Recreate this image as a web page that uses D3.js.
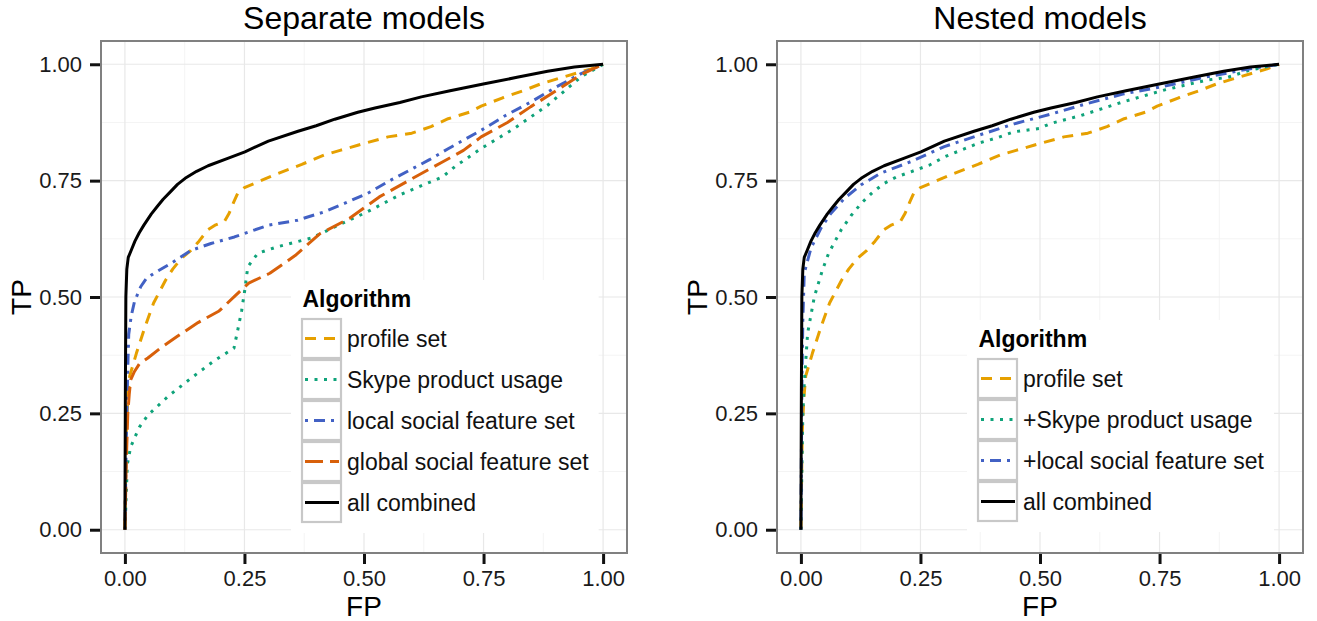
<!DOCTYPE html>
<html>
<head>
<meta charset="utf-8">
<script src="https://cdn.jsdelivr.net/npm/d3@7"></script>
<style>
  body { margin: 0; background: #fff; }
  text { font-family: "Liberation Sans", Arial, sans-serif; }
</style>
</head>
<body>
<svg id="chart" width="1317" height="621"></svg>
<script>
// ---- data ----
const axisTicks = [0, 0.25, 0.5, 0.75, 1];
const minorTicks = [0.125, 0.375, 0.625, 0.875];
const panelTitles = ["Separate models", "Nested models"];
const legendTitle = "Algorithm";
const separateLabels = ["profile set", "Skype product usage", "local social feature set", "global social feature set", "all combined"];
const nestedLabels = ["profile set", "+Skype product usage", "+local social feature set", "all combined"];

// [FP, TP]
const profileSet = [[0,0],[0.002,0.15],[0.003,0.215],[0.006,0.28],[0.01,0.33],[0.024,0.379],[0.042,0.436],[0.06,0.487],[0.085,0.536],[0.1,0.56],[0.118,0.583],[0.138,0.6],[0.155,0.62],[0.173,0.644],[0.19,0.655],[0.208,0.662],[0.218,0.68],[0.228,0.705],[0.236,0.723],[0.25,0.735],[0.28,0.748],[0.319,0.765],[0.37,0.785],[0.417,0.805],[0.45,0.815],[0.487,0.826],[0.55,0.844],[0.6,0.852],[0.64,0.866],[0.676,0.883],[0.72,0.897],[0.745,0.91],[0.79,0.928],[0.835,0.944],[0.87,0.958],[0.918,0.973],[0.975,0.99],[1,1]];
const skypeUsage = [[0,0],[0.003,0.08],[0.005,0.14],[0.012,0.178],[0.03,0.22],[0.048,0.246],[0.092,0.288],[0.144,0.33],[0.188,0.364],[0.228,0.39],[0.236,0.429],[0.244,0.47],[0.25,0.51],[0.257,0.565],[0.278,0.594],[0.319,0.608],[0.391,0.627],[0.444,0.653],[0.505,0.682],[0.576,0.72],[0.664,0.758],[0.69,0.78],[0.745,0.819],[0.814,0.862],[0.884,0.912],[0.954,0.973],[1,1]];
const localSocial = [[0,0],[0.003,0.2],[0.006,0.35],[0.008,0.42],[0.013,0.458],[0.02,0.49],[0.033,0.522],[0.045,0.54],[0.061,0.551],[0.096,0.572],[0.138,0.6],[0.18,0.615],[0.229,0.629],[0.26,0.64],[0.299,0.654],[0.361,0.665],[0.417,0.683],[0.459,0.701],[0.508,0.723],[0.556,0.751],[0.6,0.775],[0.637,0.795],[0.675,0.818],[0.708,0.837],[0.745,0.858],[0.796,0.89],[0.849,0.919],[0.9,0.95],[0.954,0.98],[1,1]];
const globalSocial = [[0,0],[0.003,0.15],[0.006,0.25],[0.009,0.29],[0.012,0.322],[0.02,0.34],[0.03,0.356],[0.048,0.369],[0.074,0.39],[0.109,0.415],[0.153,0.445],[0.197,0.47],[0.232,0.504],[0.259,0.53],[0.303,0.551],[0.356,0.589],[0.408,0.636],[0.47,0.669],[0.532,0.715],[0.602,0.755],[0.664,0.79],[0.708,0.815],[0.745,0.844],[0.8,0.875],[0.849,0.909],[0.9,0.942],[0.954,0.978],[1,1]];
const allCombined = [[0,0],[0.001,0.3],[0.002,0.5],[0.004,0.56],[0.007,0.585],[0.013,0.6],[0.021,0.62],[0.03,0.638],[0.04,0.655],[0.055,0.678],[0.068,0.695],[0.08,0.71],[0.096,0.727],[0.11,0.742],[0.126,0.755],[0.15,0.77],[0.174,0.782],[0.215,0.798],[0.251,0.812],[0.3,0.835],[0.362,0.856],[0.4,0.868],[0.439,0.882],[0.487,0.897],[0.523,0.906],[0.575,0.918],[0.62,0.93],[0.68,0.943],[0.752,0.958],[0.82,0.972],[0.884,0.985],[0.94,0.994],[1,1]];
const plusSkype = [[0,0],[0.002,0.13],[0.004,0.25],[0.007,0.315],[0.014,0.422],[0.028,0.5],[0.045,0.558],[0.058,0.594],[0.084,0.644],[0.105,0.675],[0.126,0.701],[0.15,0.725],[0.174,0.744],[0.2,0.758],[0.23,0.769],[0.27,0.784],[0.3,0.801],[0.37,0.83],[0.41,0.842],[0.446,0.855],[0.498,0.862],[0.523,0.873],[0.586,0.89],[0.673,0.919],[0.761,0.945],[0.849,0.966],[0.893,0.972],[0.937,0.987],[1,1]];
const plusLocal = [[0,0],[0.002,0.3],[0.004,0.45],[0.007,0.551],[0.021,0.605],[0.042,0.648],[0.063,0.68],[0.091,0.712],[0.126,0.741],[0.167,0.766],[0.2,0.779],[0.23,0.791],[0.3,0.823],[0.37,0.847],[0.446,0.872],[0.523,0.893],[0.586,0.912],[0.673,0.936],[0.761,0.953],[0.849,0.973],[0.937,0.99],[1,1]];

// ---- styles ----
const dashed = { color: "#E6A000", dash: "11,8" };
const dotted = { color: "#0FA37A", dash: "3,6.5" };
const dotdash = { color: "#4261C4", dash: "3,6,11,6" };
const longdash = { color: "#D8600A", dash: "18,7" };
const solid = { color: "#000", dash: null };

const svg = d3.select("#chart");
const fmt = d3.format(".2f");

function drawPanel(opts) {
  const top = 41, bottom = 553;
  const x = d3.scaleLinear().domain([-0.05, 1.05]).range([opts.left, opts.right]);
  const y = d3.scaleLinear().domain([-0.05, 1.05]).range([bottom, top]);
  const g = svg.append("g");

  // grid
  g.selectAll(".minx").data(minorTicks).enter().append("line")
    .attr("x1", d => x(d)).attr("x2", d => x(d)).attr("y1", top).attr("y2", bottom)
    .attr("stroke", "#f4f4f4").attr("stroke-width", 1);
  g.selectAll(".miny").data(minorTicks).enter().append("line")
    .attr("y1", d => y(d)).attr("y2", d => y(d)).attr("x1", opts.left).attr("x2", opts.right)
    .attr("stroke", "#f4f4f4").attr("stroke-width", 1);
  g.selectAll(".majx").data(axisTicks).enter().append("line")
    .attr("x1", d => x(d)).attr("x2", d => x(d)).attr("y1", top).attr("y2", bottom)
    .attr("stroke", "#e8e8e8").attr("stroke-width", 1.2);
  g.selectAll(".majy").data(axisTicks).enter().append("line")
    .attr("y1", d => y(d)).attr("y2", d => y(d)).attr("x1", opts.left).attr("x2", opts.right)
    .attr("stroke", "#e8e8e8").attr("stroke-width", 1.2);

  // curves
  const line = d3.line().x(d => x(d[0])).y(d => y(d[1]));
  opts.series.forEach(s => {
    g.append("path")
      .datum(s.values)
      .attr("d", line)
      .attr("fill", "none")
      .attr("stroke", s.style.color)
      .attr("stroke-width", 3)
      .attr("stroke-linejoin", "round")
      .attr("stroke-dasharray", s.style.dash);
  });

  // legend
  const lg = g.append("g");
  const keySize = 41;
  const rowsTop = opts.legendTop;
  const bg = lg.append("rect").attr("fill", "#fff");
  lg.append("text")
    .attr("x", opts.legendX + 1.5).attr("y", rowsTop - 11)
    .attr("font-size", 23).attr("font-weight", "bold").attr("fill", "#000")
    .text(legendTitle);
  let maxW = 0;
  opts.series.forEach((s, i) => {
    const ry = rowsTop + i * keySize;
    lg.append("rect")
      .attr("x", opts.legendX + 1).attr("y", ry + 1)
      .attr("width", keySize - 2).attr("height", keySize - 2)
      .attr("fill", "#fff").attr("stroke", "#c8c8c8").attr("stroke-width", 2.2);
    lg.append("line")
      .attr("x1", opts.legendX + 4).attr("x2", opts.legendX + keySize - 3)
      .attr("y1", ry + keySize / 2).attr("y2", ry + keySize / 2)
      .attr("stroke", s.style.color).attr("stroke-width", 3)
      .attr("stroke-dasharray", s.style.dash);
    const t = lg.append("text")
      .attr("x", opts.legendX + keySize + 5).attr("y", ry + keySize / 2 + 8)
      .attr("font-size", 23).attr("fill", "#111")
      .text(s.label);
    maxW = Math.max(maxW, t.node().getComputedTextLength());
  });
  const bgTop = rowsTop - 38;
  bg.attr("x", opts.legendX - 10).attr("y", bgTop)
    .attr("width", keySize + 5 + maxW + 20)
    .attr("height", rowsTop + opts.series.length * keySize + 10 - bgTop);

  // panel border
  g.append("rect")
    .attr("x", opts.left).attr("y", top)
    .attr("width", opts.right - opts.left).attr("height", bottom - top)
    .attr("fill", "none").attr("stroke", "#808080").attr("stroke-width", 2);

  // axes
  const xAxis = d3.axisBottom(x).tickValues(axisTicks).tickFormat(fmt).tickSize(10).tickPadding(6);
  const yAxis = d3.axisLeft(y).tickValues(axisTicks).tickFormat(fmt).tickSize(10).tickPadding(8);
  const gx = g.append("g").attr("transform", `translate(0,${bottom + 1})`).call(xAxis);
  const gy = g.append("g").attr("transform", `translate(${opts.left - 1},0)`).call(yAxis);
  [gx, gy].forEach(a => {
    a.select(".domain").remove();
    a.selectAll(".tick line").attr("stroke", "#111").attr("stroke-width", 3);
    a.selectAll(".tick text").attr("font-size", 22).attr("fill", "#1a1a1a")
      .attr("font-family", "Liberation Sans, Arial, sans-serif");
  });

  // titles
  const cx = (opts.left + opts.right) / 2;
  g.append("text").attr("x", cx).attr("y", 29).attr("text-anchor", "middle")
    .attr("font-size", 32).attr("fill", "#000").text(opts.title);
  g.append("text").attr("x", cx).attr("y", 616).attr("text-anchor", "middle")
    .attr("font-size", 28).attr("fill", "#000").text("FP");
  g.append("text").attr("transform", `translate(${opts.left - 70},${y(0.5)}) rotate(-90)`)
    .attr("text-anchor", "middle").attr("font-size", 28).attr("fill", "#000").text("TP");
}

drawPanel({
  left: 101, right: 627, title: panelTitles[0],
  legendX: 301, legendTop: 318,
  series: [
    { label: separateLabels[0], values: profileSet, style: dashed },
    { label: separateLabels[1], values: skypeUsage, style: dotted },
    { label: separateLabels[2], values: localSocial, style: dotdash },
    { label: separateLabels[3], values: globalSocial, style: longdash },
    { label: separateLabels[4], values: allCombined, style: solid }
  ]
});

drawPanel({
  left: 777, right: 1303, title: panelTitles[1],
  legendX: 977, legendTop: 358,
  series: [
    { label: nestedLabels[0], values: profileSet, style: dashed },
    { label: nestedLabels[1], values: plusSkype, style: dotted },
    { label: nestedLabels[2], values: plusLocal, style: dotdash },
    { label: nestedLabels[3], values: allCombined, style: solid }
  ]
});
</script>
</body>
</html>
